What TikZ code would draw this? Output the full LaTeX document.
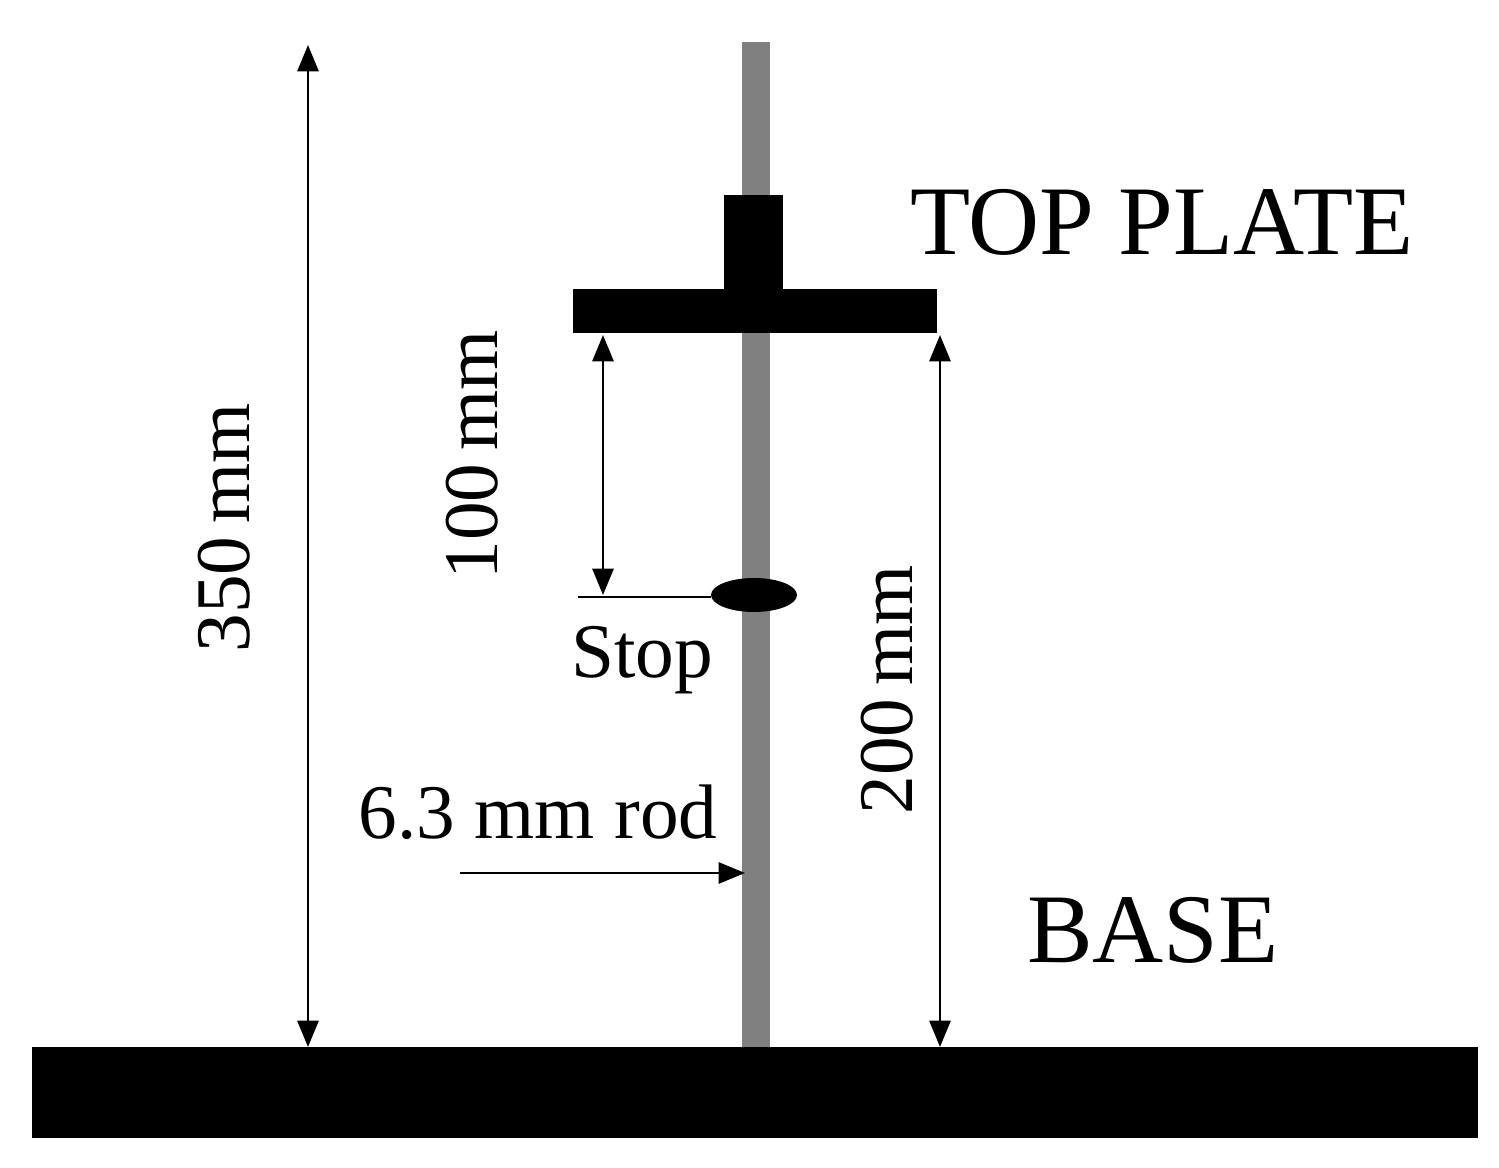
\documentclass[tikz,border=0pt]{standalone}
\usepackage{fontspec}
\setmainfont{Liberation Serif}
\usetikzlibrary{arrows.meta,shapes.geometric}
\begin{document}
\begin{tikzpicture}[x=0.02cm,y=-0.02cm,
  dim/.style={line width=1.5pt,{Triangle[length=15pt,width=12pt]}-{Triangle[length=15pt,width=12pt]}},
  lbl/.style={font=\fontsize{44}{44}\selectfont, inner sep=0pt},
  big/.style={font=\fontsize{56}{56}\selectfont, inner sep=0pt}]
\useasboundingbox (0,0) rectangle (1499,1168);
\fill[gray!95!white,fill=black!50] (742,42) rectangle (770,1050);
\fill (32,1047) rectangle (1478,1138);
\fill (573,289) rectangle (937,333);
\fill (724,195) rectangle (783,289);
\node[fill=black,ellipse,minimum width=1.72cm,minimum height=0.68cm,inner sep=0pt] (stop) at (754,595) {};
\coordinate (sl) at (578,597);
\draw[line width=1.5pt] (sl) -- (sl -| stop.west);
\coordinate (a1) at (603,335); \coordinate (a2) at (603,595);
\draw[dim] (a1) -- (a2);
\coordinate (b1) at (308,45); \coordinate (b2) at (308,1047);
\draw[dim] (b1) -- (b2);
\coordinate (c1) at (940,335); \coordinate (c2) at (940,1047);
\draw[dim] (c1) -- (c2);
\coordinate (r1) at (460,873); \coordinate (r2) at (745,873);
\draw[line width=1.5pt,-{Triangle[length=15pt,width=12pt]}] (r1) -- (r2);
\node[lbl,rotate=90] (l100) at (472,455) {100\,mm};
\node[lbl,rotate=90] (l350) at (224,528) {350\,mm};
\node[lbl,rotate=90] (l200) at (887,690) {200\,mm};
\node[lbl] (lstop) at (642,660) {Stop};
\node[lbl] (lrod) at (538,812) {6.3 mm rod};
\node[big] (ltop) at (1162,222) {TOP PLATE};
\node[big] (lbase) at (1153,930) {BASE};
\end{tikzpicture}
\end{document}
